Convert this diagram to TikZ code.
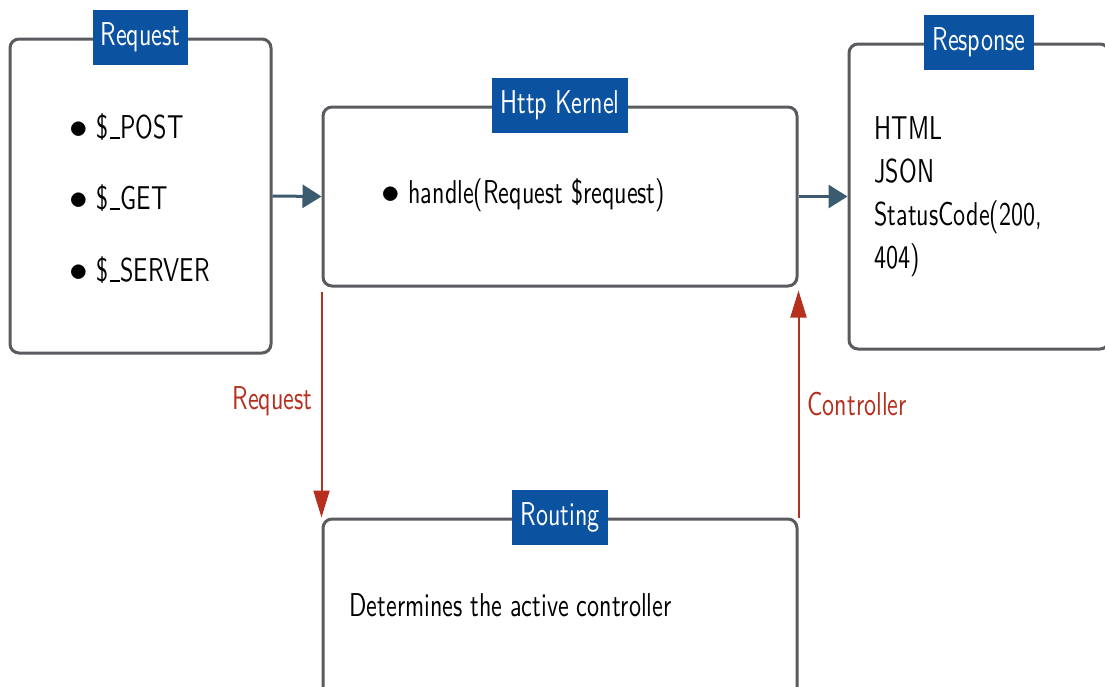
\documentclass[tikz,border=0pt]{standalone}
\usepackage{graphicx}
\usepackage{fontspec}
\setsansfont{lmsans10-regular.otf}[FakeStretch=0.73]
\renewcommand{\familydefault}{\sfdefault}
\usetikzlibrary{arrows.meta,positioning}

\definecolor{panelgray}{HTML}{5A5B5E}
\definecolor{tagblue}{HTML}{0B52A0}
\definecolor{flowblue}{HTML}{3B5B70}
\definecolor{callred}{HTML}{B5301F}

% short underscore and round bullet
\newcommand{\uscore}{\kern1pt\rule[-1pt]{10pt}{2pt}\kern1pt}
\newcommand{\dotitem}{\makebox[20pt]{\scalebox{1.5}{$\bullet$}}\hspace{8pt}}

\tikzset{
  panel/.style={draw=panelgray, line width=3pt, rounded corners=9pt},
  tag/.style={fill=tagblue, text=white, inner xsep=8pt, minimum height=55pt},
  flow/.style={draw=flowblue, line width=3pt, -{Triangle[length=19pt,width=23pt]}},
  call/.style={draw=callred, line width=2pt, -{Triangle[length=27pt,width=16pt]}},
  calllabel/.style={text=callred},
}

\begin{document}
\begin{tikzpicture}[x=1pt, y=-1pt, every node/.style={font=\fontsize{33}{43}\selectfont}]
\clip (0,0) rectangle (1105,686);
\fill[white] (0,0) rectangle (1105,686);
% the four panels
\node[panel, minimum width=261pt, minimum height=314pt] (request) at (140.5,196.0) {};
\node[panel, minimum width=474pt, minimum height=179pt] (kernel) at (560.0,196.5) {};
\node[panel, minimum width=260pt, minimum height=305pt] (response) at (979.0,196.5) {};
\node[panel, minimum width=474pt, minimum height=179pt] (routing) at (560.0,608.5) {};
% titles on the top edges
\node[tag] (requesttag) at (request.north) {Request};
\node[tag] (kerneltag) at (kernel.north) {Http Kernel};
\node[tag] (responsetag) at (response.north) {Response};
\node[tag] (routingtag) at (routing.north) {Routing};
% panel contents
\node[anchor=west] (post) at (65,127) {\dotitem\$\uscore POST};
\node[anchor=west] (get) at (65,198) {\dotitem\$\uscore GET};
\node[anchor=west] (server) at (65,270) {\dotitem\$\uscore SERVER};
\node[anchor=west] (handle) at (377,195) {\dotitem handle(Request \$request)};
\node[anchor=west, align=left] (formats) at (871,197) {HTML\\JSON\\StatusCode(200,\\404)};
\node[anchor=west] (determines) at (346,605) {Determines the active controller};
% connectors
\draw[flow] (request.east) -- (kernel.west);
\draw[flow] (kernel.east) -- (response.west);
\draw[call] ([yshift=-4pt]kernel.south west) -- (routing.north west);
\draw[call] (routing.north east) -- ([yshift=-3pt]kernel.south east);
\node[calllabel, anchor=east] (requestlabel) at (316,401) {Request};
\node[calllabel, anchor=west] (controllerlabel) at (804,404) {Controller};
\end{tikzpicture}
\end{document}
